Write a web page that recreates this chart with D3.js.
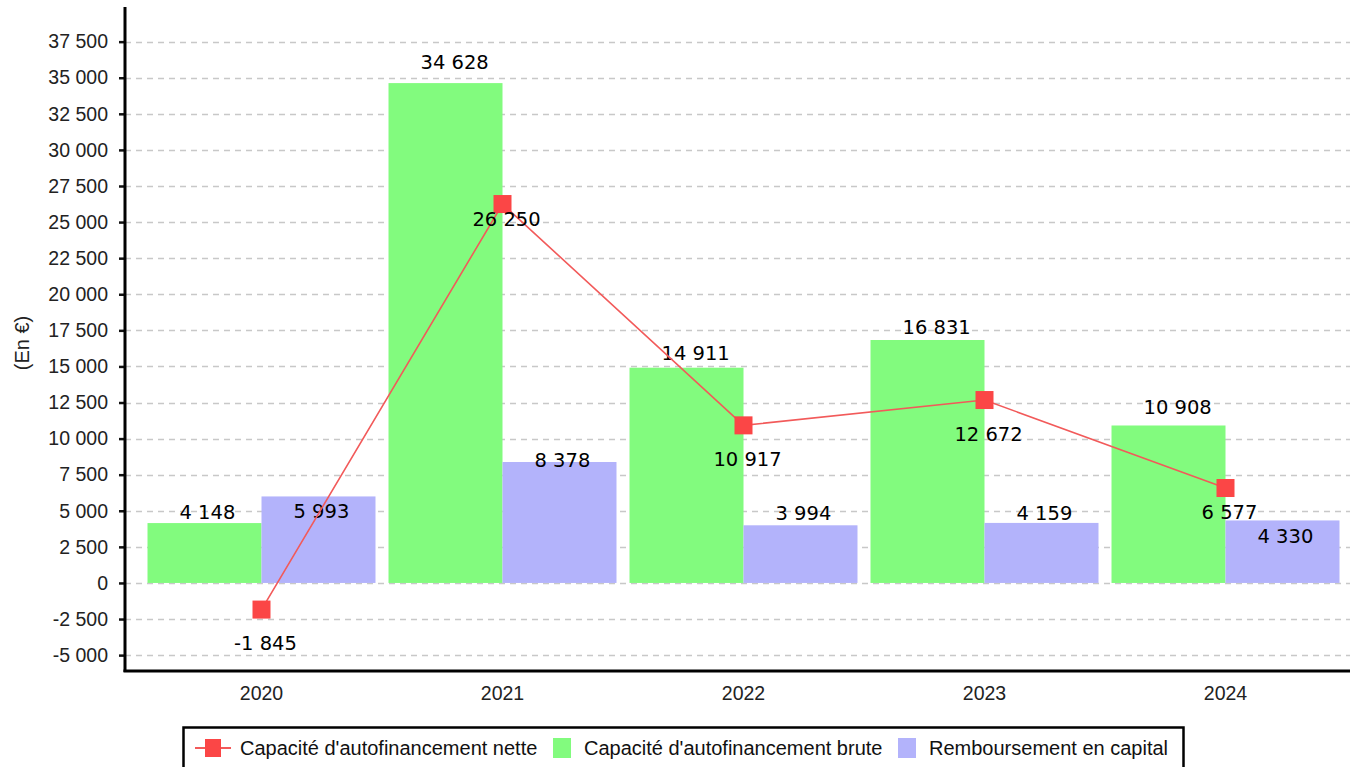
<!DOCTYPE html>
<html>
<head>
<meta charset="utf-8">
<script src="https://cdn.jsdelivr.net/npm/d3@7"></script>
<style>
  body { margin: 0; background: #fff; }
  svg { display: block; }
</style>
</head>
<body>
<div class="container"></div>
<script>
const WIDTH = 1350;
const HEIGHT = 767;

var years = ["2020", "2021", "2022", "2023", "2024"];
var cafBrute = [4148, 34628, 14911, 16831, 10908];
var remboursement = [5993, 8378, 3994, 4159, 4330];
var cafNette = [-1845, 26250, 10917, 12672, 6577];
var yTicks = [-5000, -2500, 0, 2500, 5000, 7500, 10000, 12500, 15000, 17500,
              20000, 22500, 25000, 27500, 30000, 32500, 35000, 37500];
var seriesNames = ["Capacité d'autofinancement nette",
                   "Capacité d'autofinancement brute",
                   "Remboursement en capital"];

// label vertical nudges (px, baseline relative to the mark)
var bruteLabelDy = [-4, -14, -8, -6, -11];
var rembLabelDy = [22, 5, -5, -3, 23];
var netteLabelDy = [40, 22, 41, 41, 31];

var fmtLabel = function(v){
    var s = String(Math.abs(v)).replace(/\B(?=(\d{3})+(?!\d))/g, " ");
    return (v < 0 ? "-" : "") + s;
};

var load = function(){
    var svg = d3.select(".container")
        .append("svg")
        .attr("width", WIDTH)
        .attr("height", HEIGHT);

    var axisX = 125, axisBottom = 671, axisTop = 7;

    var y = d3.scaleLinear()
        .domain([-6100, 39900])
        .range([axisBottom, axisTop]);

    var x = d3.scaleBand()
        .domain(years)
        .range([141, 1346])
        .paddingInner(0.054)
        .paddingOuter(0.027);

    var sub = d3.scaleBand()
        .domain(["brute", "remb"])
        .range([0, x.bandwidth()]);

    // grid
    svg.append("g").selectAll("line")
        .data(yTicks)
        .enter()
        .append("line")
        .attr("x1", axisX)
        .attr("x2", WIDTH)
        .attr("y1", function(d){ return Math.round(y(d)) + 0.5; })
        .attr("y2", function(d){ return Math.round(y(d)) + 0.5; })
        .style("stroke", "#c8c8c8")
        .style("stroke-width", 1.3)
        .style("stroke-dasharray", "6,5");

    // bars
    var groups = svg.append("g").selectAll("g")
        .data(years)
        .enter()
        .append("g")
        .attr("transform", function(d){ return "translate(" + x(d) + ",0)"; });

    groups.append("rect")
        .attr("x", sub("brute"))
        .attr("width", sub.bandwidth())
        .attr("y", function(d, i){ return y(cafBrute[i]); })
        .attr("height", function(d, i){ return y(0) - y(cafBrute[i]); })
        .style("fill", "#82fb7e");

    groups.append("rect")
        .attr("x", sub("remb"))
        .attr("width", sub.bandwidth())
        .attr("y", function(d, i){ return y(remboursement[i]); })
        .attr("height", function(d, i){ return y(0) - y(remboursement[i]); })
        .style("fill", "#b3b3fb");

    var labelStyle = function(sel){
        sel.style("font-family", "'DejaVu Sans', sans-serif")
            .style("font-size", "19.5px")
            .style("fill", "#000");
    };

    groups.append("text")
        .attr("x", sub("brute") + sub.bandwidth() / 2 - 25)
        .attr("y", function(d, i){ return y(cafBrute[i]) + bruteLabelDy[i]; })
        .text(function(d, i){ return fmtLabel(cafBrute[i]); })
        .call(labelStyle);

    groups.append("text")
        .attr("x", sub("remb") + sub.bandwidth() / 2 - 25)
        .attr("y", function(d, i){ return y(remboursement[i]) + rembLabelDy[i]; })
        .text(function(d, i){ return fmtLabel(remboursement[i]); })
        .call(labelStyle);

    // line
    var cx = function(d, i){ return x(years[i]) + x.bandwidth() / 2; };
    var line = d3.line()
        .x(function(d, i){ return cx(d, i); })
        .y(function(d){ return y(d); });

    svg.append("path")
        .datum(cafNette)
        .attr("d", line)
        .style("fill", "none")
        .style("stroke", "#f25a5a")
        .style("stroke-width", 1.6);

    svg.append("g").selectAll("rect")
        .data(cafNette)
        .enter()
        .append("rect")
        .attr("x", function(d, i){ return cx(d, i) - 9; })
        .attr("y", function(d){ return y(d) - 9; })
        .attr("width", 18)
        .attr("height", 18)
        .style("fill", "#fb4646");

    svg.append("g").selectAll("text")
        .data(cafNette)
        .enter()
        .append("text")
        .attr("text-anchor", "middle")
        .attr("x", function(d, i){ return cx(d, i) + 4; })
        .attr("y", function(d, i){ return y(d) + netteLabelDy[i]; })
        .text(function(d){ return fmtLabel(d); })
        .call(labelStyle);

    var axisFont = function(sel){
        sel.style("font-family", "'Liberation Sans', Arial, sans-serif")
            .style("font-size", "19.5px")
            .style("fill", "#222");
    };

    // y axis
    var yAxis = d3.axisLeft(y)
        .tickValues(yTicks)
        .tickSize(6)
        .tickPadding(11)
        .tickFormat(function(d){ return fmtLabel(d); });

    var ya = svg.append("g")
        .attr("transform", "translate(" + axisX + ",0)")
        .call(yAxis);
    ya.select(".domain").remove();
    ya.selectAll(".tick line").style("stroke", "#111").style("stroke-width", 2.5);
    ya.selectAll(".tick text").call(axisFont);

    svg.append("line")
        .attr("x1", axisX).attr("x2", axisX)
        .attr("y1", axisTop).attr("y2", axisBottom + 1)
        .style("stroke", "#000").style("stroke-width", 3);

    // x axis
    var xAxis = d3.axisBottom(x).tickSize(0).tickPadding(15);
    var xa = svg.append("g")
        .attr("transform", "translate(0," + axisBottom + ")")
        .call(xAxis);
    xa.select(".domain").remove();
    xa.selectAll(".tick text").call(axisFont);

    svg.append("line")
        .attr("x1", axisX - 1.5).attr("x2", WIDTH)
        .attr("y1", axisBottom).attr("y2", axisBottom)
        .style("stroke", "#000").style("stroke-width", 3);

    // y title
    svg.append("text")
        .attr("transform", "translate(29,343) rotate(-90)")
        .attr("text-anchor", "middle")
        .call(axisFont)
        .style("font-size", "20px")
        .text("(En €)");

    // legend
    var lg = svg.append("g");
    lg.append("rect")
        .attr("x", 183.5).attr("y", 727.5)
        .attr("width", 1000).attr("height", 45)
        .style("fill", "#fff")
        .style("stroke", "#000")
        .style("stroke-width", 2.5);

    var legendX = [195, 553, 898];
    var textX = [240, 584, 929];
    var ly = 748;

    lg.append("line")
        .attr("x1", legendX[0]).attr("x2", legendX[0] + 36)
        .attr("y1", ly).attr("y2", ly)
        .style("stroke", "#f25a5a").style("stroke-width", 2);
    lg.append("rect")
        .attr("x", legendX[0] + 10).attr("y", ly - 9)
        .attr("width", 16).attr("height", 18)
        .style("fill", "#fb4646");
    lg.append("rect")
        .attr("x", legendX[1]).attr("y", ly - 10)
        .attr("width", 18).attr("height", 20)
        .style("fill", "#82fb7e");
    lg.append("rect")
        .attr("x", legendX[2]).attr("y", ly - 10)
        .attr("width", 18).attr("height", 20)
        .style("fill", "#b3b3fb");

    lg.selectAll("text.lab")
        .data(seriesNames)
        .enter()
        .append("text")
        .attr("class", "lab")
        .attr("x", function(d, i){ return textX[i]; })
        .attr("y", ly + 7)
        .call(axisFont)
        .style("font-size", "20px")
        .style("fill", "#111")
        .text(function(d){ return d; });
};

window.onload = load;
</script>
</body>
</html>
